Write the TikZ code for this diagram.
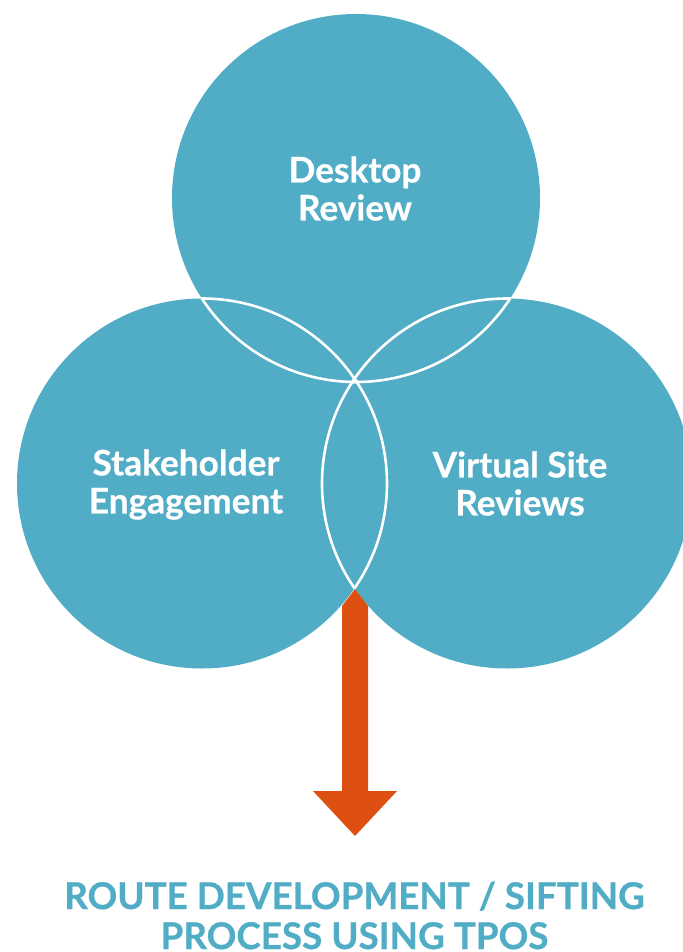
\documentclass[tikz,border=0pt]{standalone}
\usepackage{fontspec}
\setmainfont{Lato}
\newfontfamily\heavyfont{Lato}[BoldFont={Lato Bold},BoldFeatures={FakeBold=0.6}]
\definecolor{teal1}{HTML}{50ADC5}
\definecolor{rust}{HTML}{DE5011}
\definecolor{title}{HTML}{50ADC5}
\newlength{\pxu}\setlength{\pxu}{0.75pt}
\tikzset{
  lobe/.style={circle,fill=teal1,minimum size=370\pxu,inner sep=0pt},
  toplobe/.style={circle,fill=teal1,minimum size=368\pxu,inner sep=0pt},
  rim/.style={draw=white,line width=2.6\pxu},
  lbl/.style={text=white,font=\fontsize{26.4}{28.5}\selectfont\heavyfont\bfseries,align=center},
  ttl/.style={text=title,inner sep=0pt,font=\fontsize{27.6}{30}\selectfont\heavyfont\bfseries,align=center}
}
\begin{document}
\begin{tikzpicture}[x=0.75pt,y=-0.75pt]
\useasboundingbox (0,0) rectangle (682,952);
\fill[white] (0,0) rectangle (682,952);
\node[toplobe] (top) at (356,198) {};
\node[lobe] (left) at (202,483.5) {};
\node[lobe] (right) at (507,483.5) {};
\begin{scope}
\clip (356,198) circle (184);
\draw[rim] (202,483.5) circle (185);
\draw[rim] (507,483.5) circle (185);
\end{scope}
\begin{scope}
\clip (202,483.5) circle (185);
\draw[rim] (356,198) circle (184);
\draw[rim] (507,483.5) circle (185);
\end{scope}
\begin{scope}
\clip (507,483.5) circle (185);
\draw[rim] (356,198) circle (184);
\draw[rim] (202,483.5) circle (185);
\end{scope}
\node[lbl] (tl) at (355,188.5) {Desktop\\Review};
\node[lbl] (ll) at (186,484.5) {Stakeholder\\Engagement};
\node[lbl] (rl) at (520,483.5) {Virtual Site\\Reviews};
\fill[rust] (355,589) -- (368,606) -- (368,791) -- (397,791) -- (355,836) -- (313,791) -- (342,791) -- (342,606) -- cycle;
\node[ttl] (cap) at (354.5,915.5) {ROUTE DEVELOPMENT / SIFTING\\PROCESS USING TPOS};
\end{tikzpicture}
\end{document}
